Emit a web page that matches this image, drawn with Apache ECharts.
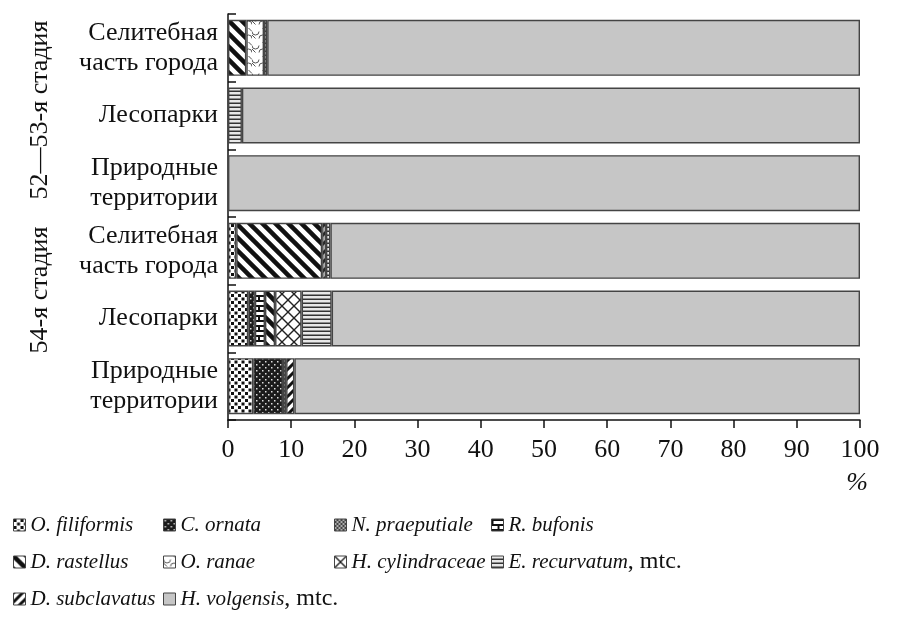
<!DOCTYPE html>
<html><head><meta charset="utf-8">
<script src="https://cdn.jsdelivr.net/npm/echarts@6/dist/echarts.min.js"></script>
<style>html,body{margin:0;padding:0;background:#fff}#c{width:898px;height:622px}</style>
</head><body><div id="c"></div>
<script>
// ---- data ----
const categories = ['Селитебная\nчасть города','Лесопарки','Природные\nтерритории','Селитебная\nчасть города','Лесопарки','Природные\nтерритории'];
const groupLabels = ['52—53-я стадия','54-я стадия'];
const xTicks = [0,10,20,30,40,50,60,70,80,90,100];
const speciesNames = ['O. filiformis','C. ornata','N. praeputiale','R. bufonis','D. rastellus','O. ranae','H. cylindraceae','D. subclavatus','E. recurvatum','H. volgensis'];
const oFiliformis   = [0,   0,   0,   1.3, 3.2, 4.0];
const cOrnata       = [0,   0,   0,   0,   1.05,4.7];
const nPraeputiale  = [0,   0,   0,   0,   0,   0.5];
const rBufonis      = [0,   0,   0,   0,   1.6, 0];
const dRastellus    = [2.9, 0,   0,   13.6,1.6, 0];
const oRanae        = [2.8, 0,   0,   0,   0,   0];
const hCylindraceae = [0,   0,   0,   0,   4.2, 0];
const dSubclavatus  = [0,   0,   0,   0.6, 0,   1.3];
const eRecurvatum   = [0.5, 2.2, 0,   0.7, 4.75,0];
const hVolgensis    = [93.8,97.8,100, 83.8,83.6,89.5];
const seriesValues = [oFiliformis,cOrnata,nPraeputiale,rBufonis,dRastellus,oRanae,hCylindraceae,dSubclavatus,eRecurvatum,hVolgensis];
const mtcSpecies = ['E. recurvatum','H. volgensis'];

// ---- patterns ----
function pat(w,h,draw){const c=document.createElement('canvas');c.width=w;c.height=h;const g=c.getContext('2d');draw(g,w,h);return {image:c,repeat:'repeat'};}
function diag(g,s,lw,color,dir){g.strokeStyle=color;g.lineWidth=lw;g.lineCap='square';for(let k=-1;k<=1;k++){g.beginPath();if(dir>0){g.moveTo(k*s,0);g.lineTo(k*s+s,s);}else{g.moveTo(k*s+s,0);g.lineTo(k*s,s);}g.stroke();}}
const fills = {
 'O. filiformis': pat(7,7,(g)=>{g.fillStyle='#fff';g.fillRect(0,0,7,7);g.fillStyle='#111';g.fillRect(0,0,3,3);g.fillRect(3.5,3.5,3,3);}),
 'C. ornata': pat(6,6,(g)=>{g.fillStyle='#1b1b1b';g.fillRect(0,0,6,6);g.fillStyle='#ddd';g.fillRect(1,1,1.5,1.5);g.fillRect(4,4,1.5,1.5);}),
 'N. praeputiale': pat(4,4,(g)=>{g.fillStyle='#444';g.fillRect(0,0,4,4);g.fillStyle='#aaa';g.fillRect(0,0,2,2);g.fillRect(2,2,2,2);}),
 'R. bufonis': pat(12,10,(g)=>{g.fillStyle='#fff';g.fillRect(0,0,12,10);g.fillStyle='#111';g.fillRect(0,0,12,2);g.fillRect(0,5,12,2);g.fillRect(0,0,2,5);g.fillRect(6,5,2,5);}),
 'D. rastellus': pat(13,13,(g)=>{g.fillStyle='#fff';g.fillRect(0,0,13,13);diag(g,13,4.5,'#111',1);}),
 'O. ranae': pat(14,14,(g)=>{g.fillStyle='#fff';g.fillRect(0,0,14,14);g.strokeStyle='#555';g.lineWidth=1;g.beginPath();g.arc(3.5,3.5,3.5,0,Math.PI);g.stroke();g.beginPath();g.arc(10.5,10.5,3.5,Math.PI,2*Math.PI);g.stroke();g.beginPath();g.moveTo(0,7);g.lineTo(3.5,10.5);g.moveTo(14,3.5);g.lineTo(10.5,0);g.stroke();}),
 'H. cylindraceae': pat(12,12,(g)=>{g.fillStyle='#fff';g.fillRect(0,0,12,12);diag(g,12,1.4,'#222',1);diag(g,12,1.4,'#222',-1);}),
 'D. subclavatus': pat(9,9,(g)=>{g.fillStyle='#fff';g.fillRect(0,0,9,9);diag(g,9,3,'#111',-1);}),
 'E. recurvatum': pat(4,4,(g)=>{g.fillStyle='#e8e8e8';g.fillRect(0,0,4,4);g.fillStyle='#333';g.fillRect(0,2.5,4,1.5);}),
 'H. volgensis': '#c6c6c6'
};

const FONT = '"Liberation Serif", "DejaVu Serif", serif';
const series = speciesNames.map((name,i)=>({
  name, type:'bar', stack:'all', barWidth:56,
  data: seriesValues[i].map(v=> v>0 ? v : '-'),
  itemStyle:{color:fills[name], borderColor:'#444', borderWidth:1.4},
  emphasis:{disabled:true}
}));

const legendCols = [
  {left:8, data:['O. filiformis','D. rastellus','D. subclavatus']},
  {left:158, data:['C. ornata','O. ranae','H. volgensis']},
  {left:329, data:['N. praeputiale','H. cylindraceae']},
  {left:486, data:['R. bufonis','E. recurvatum']}
];
const legends = legendCols.map(c=>({
  orient:'vertical', left:c.left, top:508, itemGap:13, itemWidth:12, itemHeight:12,
  icon:'rect', data:c.data, selectedMode:false,
  formatter:(n)=> mtcSpecies.includes(n) ? '{i|'+n+'}{n|, mtc.}' : '{i|'+n+'}',
  textStyle:{fontFamily:FONT, fontSize:21, color:'#111', lineHeight:24,
    rich:{i:{fontStyle:'italic',fontFamily:FONT,fontSize:21,color:'#111'}, n:{fontStyle:'normal',fontFamily:FONT,fontSize:24,color:'#111'}}},
  itemStyle:{borderColor:'#444', borderWidth:1}
}));

const chart = echarts.init(document.getElementById('c'), null, {renderer:'canvas'});
chart.setOption({
  animation:false,
  backgroundColor:'#fff',
  grid:{left:228, right:38, top:14, bottom:202, containLabel:false},
  xAxis:{type:'value', min:xTicks[0], max:xTicks[xTicks.length-1], interval:10,
    axisLine:{show:true, lineStyle:{color:'#111', width:1.5}},
    axisTick:{show:true, length:8, lineStyle:{color:'#111', width:1.5}},
    splitLine:{show:false},
    axisLabel:{fontFamily:FONT, fontSize:26, color:'#111', margin:17}
  },
  yAxis:{type:'category', inverse:true, data:categories,
    axisLine:{show:true, lineStyle:{color:'#111', width:1.5}},
    axisTick:{show:true, inside:true, length:8, lineStyle:{color:'#111', width:1.5}},
    axisLabel:{fontFamily:FONT, fontSize:26, color:'#111', lineHeight:30, margin:10, align:'right'}
  },
  legend: legends,
  graphic:[
    {type:'text', x:40, y:110, rotation:Math.PI/2, style:{text:groupLabels[0], font:'26px '+FONT, fill:'#111', align:'center', verticalAlign:'middle'}},
    {type:'text', x:40, y:290, rotation:Math.PI/2, style:{text:groupLabels[1], font:'26px '+FONT, fill:'#111', align:'center', verticalAlign:'middle'}},
    {type:'text', x:857, y:483, style:{text:'%', font:'italic 26px '+FONT, fill:'#111', align:'center', verticalAlign:'middle'}}
  ],
  series
});
</script></body></html>
